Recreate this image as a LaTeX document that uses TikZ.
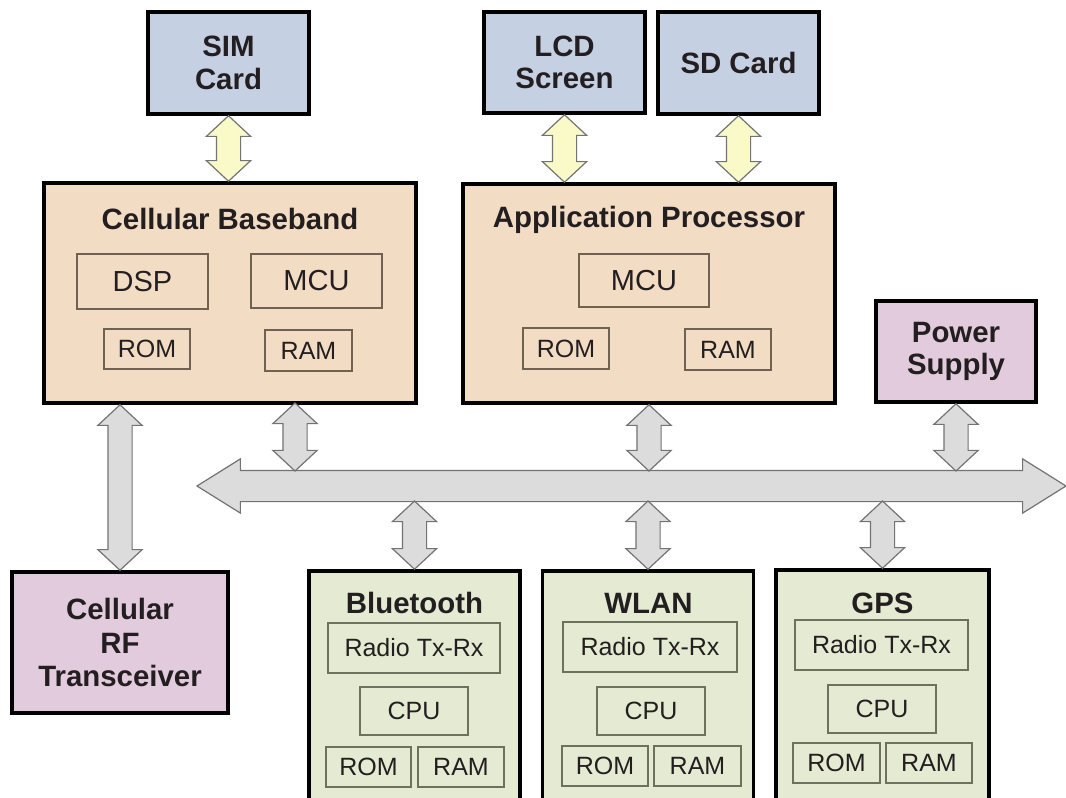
\documentclass[tikz,border=0pt]{standalone}
\usepackage{fontspec}
\setmainfont{Liberation Sans}
\usetikzlibrary{shapes.arrows,calc}

\definecolor{cardblue}{RGB}{198,208,227}
\definecolor{chippeach}{RGB}{243,220,196}
\definecolor{rfpink}{RGB}{226,203,221}
\definecolor{radiogreen}{RGB}{229,235,211}
\definecolor{busgray}{RGB}{220,220,220}
\definecolor{linkyellow}{RGB}{250,250,201}
\definecolor{inkdark}{RGB}{35,31,32}
\definecolor{peachline}{RGB}{112,98,82}
\definecolor{greenline}{RGB}{108,114,94}

% fat double arrow between two points (vertical links)
\newcommand{\fatlink}[3]{%
  \path let \p1=(#2), \p2=(#3), \n1={veclen(\x2-\x1,\y2-\y1)} in
    node[#1, minimum height=\n1, rotate=90] at ($(#2)!0.5!(#3)$) {};}

\begin{document}
\begin{tikzpicture}[x=0.5pt,y=-0.5pt,
  every node/.style={text=inkdark},
  block/.style={draw=black, line width=1.75pt, inner sep=0pt, align=center,
    font=\fontsize{14.7}{16.3}\selectfont\bfseries},
  card/.style={block, fill=cardblue, minimum width=80.5pt, minimum height=51pt},
  chip/.style={block, fill=chippeach, minimum width=186pt, minimum height=110pt},
  rfbox/.style={block, fill=rfpink},
  radio/.style={block, fill=radiogreen, minimum width=105.5pt, minimum height=118pt},
  title/.style={inner sep=0pt, font=\fontsize{14.7}{16}\selectfont\bfseries},
  part/.style={draw=peachline, line width=0.75pt, inner sep=0pt,
    font=\fontsize{12.5}{14}\selectfont},
  bigpart/.style={part, font=\fontsize{14.5}{16}\selectfont},
  gpart/.style={part, draw=greenline},
  yellink/.style={double arrow, fill=linkyellow, draw=black!55, line width=0.6pt,
    inner xsep=0pt, inner ysep=5.75pt, minimum width=0pt,
    double arrow head extend=5pt, double arrow tip angle=94},
  graylink/.style={yellink, fill=busgray},
  busarrow/.style={double arrow, fill=busgray, draw=black!55, line width=0.6pt,
    inner xsep=0pt, inner ysep=7.5pt, minimum width=0pt,
    double arrow head extend=5.75pt, double arrow tip angle=64}]

\useasboundingbox (0,0) rectangle (1066,798);

% Cards on top
\node[card] (sim) at (228.5,63) {SIM\\Card};
\node[card, minimum height=50.5pt] (lcd) at (564.5,62.5) {LCD\\Screen};
\node[card] (sd) at (738.5,63) {SD Card};

% Cellular baseband
\node[chip] (bb) at (230,293) {};
\node[title] (bbtitle) at (230,219) {Cellular Baseband};
\node[bigpart, minimum width=65.5pt, minimum height=27.5pt] (bbdsp) at (142.5,281.5) {DSP};
\node[bigpart, minimum width=65.5pt, minimum height=27pt] (bbmcu) at (316.5,281) {MCU};
\node[part, minimum width=43pt, minimum height=20pt] (bbrom) at (147,349) {ROM};
\node[part, minimum width=43.5pt, minimum height=20.5pt] (bbram) at (308.5,350.5) {RAM};

% Application processor
\node[chip, minimum height=109.5pt] (ap) at (649,293.5) {};
\node[title] (aptitle) at (649,220) {Application Processor};
\node[bigpart, minimum width=65pt, minimum height=26.5pt] (apmcu) at (644,280.5) {MCU};
\node[part, minimum width=43pt, minimum height=20.5pt] (aprom) at (566,348.5) {ROM};
\node[part, minimum width=43pt, minimum height=20.5pt] (apram) at (728,349.5) {RAM};

% Power supply and RF transceiver
\node[rfbox, minimum width=80pt, minimum height=50.5pt] (pwr) at (956,351.5) {Power\\Supply};
\node[rfbox, minimum width=108pt, minimum height=70.5pt, font=\fontsize{14.7}{16.8}\selectfont\bfseries] (rf) at (120,642.5) {Cellular\\RF\\Transceiver};

% Bus
\node[busarrow, minimum height=434.5pt] (bus) at (631.5,486) {};
\coordinate (bustop) at (0,471);
\coordinate (busbot) at (0,501);
\coordinate (bbport) at (295,403);

% Bluetooth
\node[radio] (bt) at (414.5,689) {};
\node[title] (bttitle) at (414.5,603) {Bluetooth};
\node[gpart, minimum width=86pt, minimum height=25pt] (btradio) at (414,648) {Radio Tx-Rx};
\node[gpart, minimum width=54pt, minimum height=24pt] (btcpu) at (414,711) {CPU};
\node[gpart, minimum width=42.5pt, minimum height=20pt] (btrom) at (368.5,767) {ROM};
\node[gpart, minimum width=43pt, minimum height=20pt] (btram) at (461,767) {RAM};

% WLAN
\node[radio] (wl) at (648,689) {};
\node[title] (wltitle) at (648.5,603) {WLAN};
\node[gpart, minimum width=87pt, minimum height=25pt] (wlradio) at (650,647) {Radio Tx-Rx};
\node[gpart, minimum width=54pt, minimum height=24pt] (wlcpu) at (651,711) {CPU};
\node[gpart, minimum width=43pt, minimum height=20pt] (wlrom) at (605,766) {ROM};
\node[gpart, minimum width=43.5pt, minimum height=20pt] (wlram) at (697.5,766) {RAM};

% GPS
\node[radio, minimum width=106.5pt] (gps) at (882.5,688) {};
\node[title] (gpstitle) at (882.5,603) {GPS};
\node[gpart, minimum width=86.5pt, minimum height=25pt] (gpsradio) at (881.5,645) {Radio Tx-Rx};
\node[gpart, minimum width=54pt, minimum height=24pt] (gpscpu) at (882,709) {CPU};
\node[gpart, minimum width=43.5pt, minimum height=20pt] (gpsrom) at (836.5,763) {ROM};
\node[gpart, minimum width=43pt, minimum height=20pt] (gpsram) at (929,763) {RAM};

% Links
\fatlink{yellink}{sim.south}{sim.south |- bb.north}
\fatlink{yellink}{lcd.south}{lcd.south |- ap.north}
\fatlink{yellink}{sd.south}{sd.south |- ap.north}
\fatlink{graylink}{rf.north |- bb.south}{rf.north}
\fatlink{graylink}{bbport}{bbport |- bustop}
\fatlink{graylink}{ap.south}{ap.south |- bustop}
\fatlink{graylink}{pwr.south}{pwr.south |- bustop}
\fatlink{graylink}{bt.north |- busbot}{bt.north}
\fatlink{graylink}{wl.north |- busbot}{wl.north}
\fatlink{graylink}{gps.north |- busbot}{gps.north}

\end{tikzpicture}
\end{document}
